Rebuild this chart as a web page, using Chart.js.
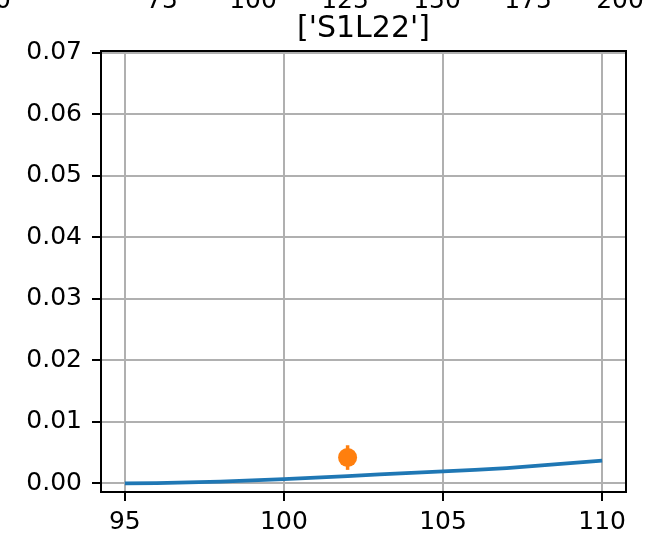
<!DOCTYPE html>
<html>
<head>
<meta charset="utf-8">
<script src="https://cdn.jsdelivr.net/npm/chart.js@4/dist/chart.umd.min.js"></script>
<style>
  html, body { margin: 0; padding: 0; background: #fff; }
  #wrap { width: 658px; height: 543px; position: relative; }
</style>
</head>
<body>
<div id="wrap"><canvas id="chart"></canvas></div>
<script>
    // Data
    const titleText = "['S1L22']";
    const curveX = [95, 96, 97, 98, 99, 100, 101, 102, 103, 104, 105, 106, 107, 108, 109, 110];
    const curveY = [0, 0.00005, 0.00015, 0.0003, 0.00048, 0.0007, 0.00095, 0.0012, 0.00145, 0.0017, 0.00195, 0.0022, 0.0025, 0.0029, 0.0033, 0.0037];
    const pointX = [102];
    const pointY = [0.0042];
    const pointErr = [0.002];
    const xTicks = [95, 100, 105, 110];
    const yTicks = [0, 0.01, 0.02, 0.03, 0.04, 0.05, 0.06, 0.07];
    // tick labels of the panel above, cut off at the top edge
    const aboveLabels = ['0', '75', '100', '125', '150', '175', '200'];
    const aboveLabelX = [3, 162, 253, 345, 437, 528, 620];

    const FONT = "'DejaVu Sans', sans-serif";

    // Extras: frame, error bars, title, cut-off labels
    const extrasPlugin = {
        id: 'extras',
        afterDatasetsDraw(chart) {
            const ctx = chart.ctx;
            const xs = chart.scales.x, ys = chart.scales.y;
            // error bars
            ctx.save();
            ctx.strokeStyle = '#ff7f0e';
            ctx.lineWidth = 3.5;
            pointX.forEach((x, i) => {
                const px = xs.getPixelForValue(x);
                ctx.beginPath();
                ctx.moveTo(px, ys.getPixelForValue(pointY[i] - pointErr[i]));
                ctx.lineTo(px, ys.getPixelForValue(pointY[i] + pointErr[i]));
                ctx.stroke();
            });
            ctx.restore();
        },
        afterDraw(chart) {
            const ctx = chart.ctx;
            const a = chart.chartArea;
            ctx.save();
            ctx.strokeStyle = '#000';
            ctx.lineWidth = 2;
            ctx.strokeRect(a.left, a.top, a.right - a.left, a.bottom - a.top);

            ctx.fillStyle = '#000';
            ctx.font = '30px ' + FONT;
            ctx.textAlign = 'center';
            ctx.textBaseline = 'alphabetic';
            ctx.fillText(titleText, (a.left + a.right) / 2, 37);

            ctx.font = '25px ' + FONT;
            aboveLabels.forEach((t, i) => ctx.fillText(t, aboveLabelX[i], 8));
            ctx.restore();
        }
    };

    window.onload = function() {
        const ctx = document.getElementById('chart').getContext('2d');
        new Chart(ctx, {
            type: 'scatter',
            data: {
                datasets: [{
                    type: 'line',
                    data: curveX.map((x, i) => ({ x: x, y: curveY[i] })),
                    borderColor: '#1f77b4',
                    borderWidth: 3.75,
                    pointRadius: 0,
                    fill: false,
                    tension: 0
                }, {
                    data: pointX.map((x, i) => ({ x: x, y: pointY[i] })),
                    backgroundColor: '#ff7f0e',
                    borderColor: '#ff7f0e',
                    pointRadius: 9.5,
                    borderWidth: 0
                }]
            },
            options: {
                responsive: true,
                maintainAspectRatio: false,
                animation: false,
                layout: { padding: { top: 51, right: 32, left: 0, bottom: 0 } },
                plugins: { legend: { display: false }, tooltip: { enabled: false }, title: { display: false } },
                scales: {
                    x: {
                        type: 'linear',
                        min: 94.25,
                        max: 110.75,
                        afterBuildTicks: s => { s.ticks = xTicks.map(v => ({ value: v })); },
                        afterFit: s => { s.height = 51; },
                        grid: { color: '#b0b0b0', lineWidth: 2, tickColor: '#000', tickLength: 9, tickWidth: 2 },
                        border: { display: false },
                        ticks: { color: '#000', font: { family: FONT, size: 25 }, padding: 6, maxRotation: 0,
                                 callback: v => String(v) }
                    },
                    y: {
                        min: -0.0014,
                        max: 0.0703,
                        afterBuildTicks: s => { s.ticks = yTicks.map(v => ({ value: v })); },
                        afterFit: s => { s.width = 101; },
                        grid: { color: '#b0b0b0', lineWidth: 2, tickColor: '#000', tickLength: 9, tickWidth: 2 },
                        border: { display: false },
                        ticks: { color: '#000', font: { family: FONT, size: 25 }, padding: 10,
                                 callback: v => v.toFixed(2) }
                    }
                }
            },
            plugins: [extrasPlugin]
        });
    };
</script>
</body>
</html>
